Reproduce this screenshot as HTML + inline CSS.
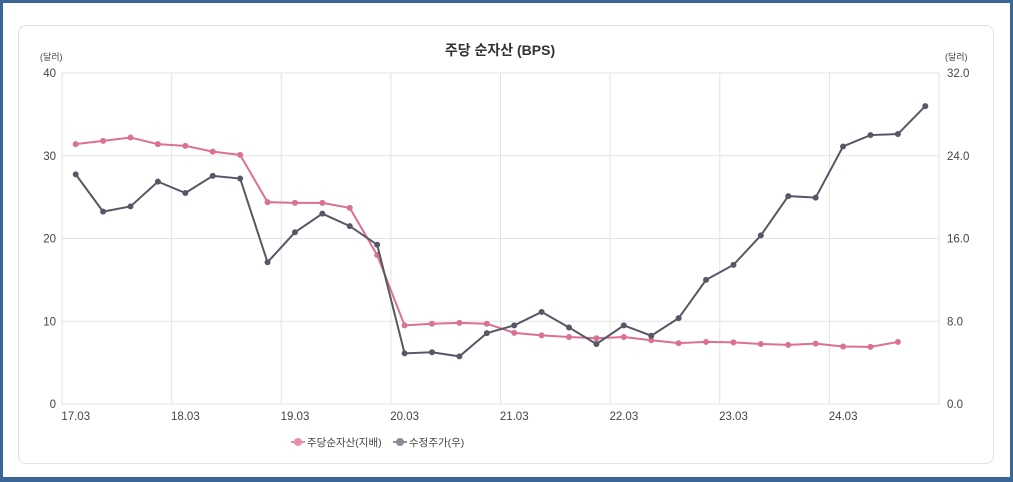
<!DOCTYPE html>
<html><head><meta charset="utf-8"><style>
body{margin:0;width:1013px;height:482px;overflow:hidden;background:#fff;font-family:"Liberation Sans","Noto Sans CJK KR",sans-serif}
#frame{position:absolute;left:0;top:0;width:1007px;height:474px;border:3px solid #3b6796;border-bottom-width:5px}
#card{position:absolute;left:18px;top:25px;width:974px;height:437px;border:1px solid #e2e2e2;border-radius:8px}
</style></head><body>
<div id="frame"></div>
<div id="card"></div>
<svg id="chart" width="1013" height="482" style="position:absolute;left:0;top:0">
<text x="500" y="55" text-anchor="middle" font-size="14" font-weight="bold" fill="#333">주당 순자산 (BPS)</text>
<text x="40" y="60" font-size="9" fill="#444">(달러)</text>
<text x="945" y="60" font-size="9" fill="#444">(달러)</text>
<g id="grid"></g><g id="axes"></g><g id="series"></g>
<g>
<g><line x1="291" y1="442" x2="305" y2="442" stroke="#e890a8" stroke-width="2"/><circle cx="298" cy="442" r="4" fill="#e890a8"/><text x="307" y="446" font-size="10.5" fill="#444">주당순자산(지배)</text></g>
<g><line x1="393" y1="442" x2="407" y2="442" stroke="#8a8c98" stroke-width="2"/><circle cx="400" cy="442" r="4" fill="#8a8c98"/><text x="409" y="446" font-size="10.5" fill="#444">수정주가(우)</text></g>
</g>
</svg>
<script>
const categories=["17.03","17.06","17.09","17.12","18.03","18.06","18.09","18.12","19.03","19.06","19.09","19.12","20.03","20.06","20.09","20.12","21.03","21.06","21.09","21.12","22.03","22.06","22.09","22.12","23.03","23.06","23.09","23.12","24.03","24.06","24.09","24.12"];
const bpsValues=[31.4,31.8,32.2,31.4,31.2,30.5,30.1,24.4,24.3,24.3,23.7,18.0,9.5,9.7,9.8,9.7,8.6,8.3,8.1,7.95,8.1,7.7,7.35,7.5,7.45,7.25,7.15,7.3,6.95,6.9,7.5];
const priceValues=[22.2,18.6,19.1,21.5,20.4,22.05,21.8,13.7,16.6,18.4,17.2,15.4,4.9,5.0,4.6,6.85,7.6,8.9,7.4,5.8,7.6,6.6,8.3,12.0,13.45,16.3,20.1,19.95,24.9,26.0,26.1,28.8];
const leftTicks=[0,10,20,30,40];
const rightTicks=["0.0","8.0","16.0","24.0","32.0"];
const L=62,R=939,T=73,B=404,NS="http://www.w3.org/2000/svg";
const bw=(R-L)/categories.length;
const xPos=i=>L+bw*(i+0.5);
const yL=v=>B-(v/40)*(B-T);
const yR=v=>B-(v/32)*(B-T);
function mk(tag,attrs,parent){const e=document.createElementNS(NS,tag);for(const k in attrs)e.setAttribute(k,attrs[k]);parent.appendChild(e);return e;}
const grid=document.getElementById('grid'),axes=document.getElementById('axes'),series=document.getElementById('series');
leftTicks.forEach((t,i)=>{
 const y=yL(t);
 const g=mk('line',{x1:L,x2:R,y1:y,y2:y,stroke:'#e3e3e3','stroke-width':1},grid);
 
 
 const lt=mk('text',{x:L-6,y:y+4,'text-anchor':'end','font-size':11.5,fill:'#444'},axes);lt.textContent=t;
 
 
 const rt=mk('text',{x:R+8,y:y+4,'font-size':11.5,fill:'#444'},axes);rt.textContent=rightTicks[i];
 
 
});
for(let i=0;i<=categories.length;i+=4){
 const x=L+bw*i;
 const g=mk('line',{x1:x,x2:x,y1:T,y2:B,stroke:'#e3e3e3','stroke-width':1},grid);
 
 
}
categories.forEach((c,i)=>{if(i%4)return;
 const t=mk('text',{x:xPos(i),y:B+16,'text-anchor':'middle','font-size':11.5,fill:'#444'},axes);t.textContent=c;
 
 
});
function draw(vals,ys,color,name){
 const p=mk('polyline',{points:vals.map((v,i)=>xPos(i)+','+ys(v)).join(' '),fill:'none',stroke:color,'stroke-width':2},series);
 
 
 vals.forEach((v,i)=>{const c=mk('circle',{cx:xPos(i),cy:ys(v),r:3,fill:color},series);
  
  });
}
draw(bpsValues,yL,'#dc7090','bps');
draw(priceValues,yR,'#565866','price');
</script>
</body></html>
